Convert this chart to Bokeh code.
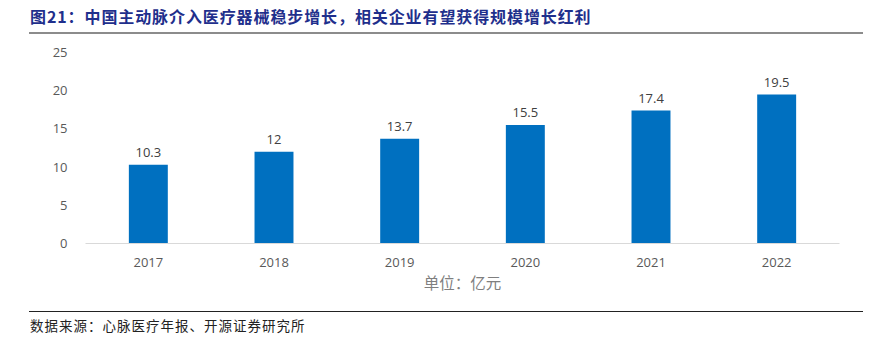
from bokeh.plotting import figure
from bokeh.models import Div, FactorRange, Range1d, ColumnDataSource, LabelSet, FixedTicker
from bokeh.core.properties import value
from bokeh.layouts import column
from bokeh.embed import file_html
from bokeh.resources import INLINE

years = ["2017", "2018", "2019", "2020", "2021", "2022"]
values = [10.3, 12, 13.7, 15.5, 17.4, 19.5]
labels = ["10.3", "12", "13.7", "15.5", "17.4", "19.5"]
y_ticks = [0, 5, 10, 15, 20, 25]
title_text = "图21：中国主动脉介入医疗器械稳步增长，相关企业有望获得规模增长红利"
unit_text = "单位：亿元"
source_text = "数据来源：心脉医疗年报、开源证券研究所"

CJK = "'Noto Sans CJK SC', 'Noto Sans', sans-serif"

title = Div(
    text=f"<div style=\"position:absolute;left:29px;top:0;width:834px;height:34px;"
         f"border-bottom:2px solid #8c8c8c;box-sizing:border-box;\">"
         f"<div style=\"padding-left:1px;padding-top:6px;font-family:{CJK};font-weight:bold;"
         f"font-size:16px;letter-spacing:0.9px;color:#1f2f8c;line-height:20px;white-space:nowrap;\">{title_text}</div></div>",
    width=893, height=36, margin=(0, 0, 0, 0),
)

src = ColumnDataSource(dict(x=years, top=values, lab=labels))

p = figure(
    width=893, height=264, output_backend="svg", toolbar_location=None,
    x_range=FactorRange(factors=years, range_padding=0),
    y_range=Range1d(0, 25),
    min_border_left=85, min_border_right=54, min_border_top=16, min_border_bottom=57,
    margin=(0, 0, 0, 0),
)
p.vbar(x="x", top="top", width=0.31, source=src, color="#0070C0", line_color=None)
p.add_layout(LabelSet(x="x", y="top", text="lab", source=src, text_align="center",
                      text_baseline="bottom", y_offset=8, text_font_size="13px",
                      text_color="#404040", text_font=value("Open Sans")))

p.outline_line_color = None
p.grid.grid_line_color = None
p.background_fill_color = "white"
p.border_fill_color = "white"

p.yaxis.ticker = FixedTicker(ticks=y_ticks)
p.yaxis.axis_line_color = None
p.yaxis.major_tick_line_color = None
p.yaxis.minor_tick_line_color = None
p.yaxis.major_label_text_font_size = "13px"
p.yaxis.major_label_text_color = "#595959"
p.yaxis.major_label_standoff = 12
p.yaxis.major_label_text_font = "Open Sans"

p.xaxis.axis_line_color = "#d9d9d9"
p.xaxis.axis_line_width = 1
p.xaxis.major_tick_line_color = None
p.xaxis.minor_tick_line_color = None
p.xaxis.major_label_text_font_size = "13px"
p.xaxis.major_label_text_color = "#595959"
p.xaxis.major_label_standoff = 8
p.xaxis.major_label_text_font = "Open Sans"
p.xaxis.axis_label = unit_text
p.xaxis.axis_label_text_font = "Noto Sans CJK SC"
p.xaxis.axis_label_text_font_style = "normal"
p.xaxis.axis_label_text_font_size = "15.5px"
p.xaxis.axis_label_text_color = "#7f7f7f"
p.xaxis.axis_label_standoff = 1

footer = Div(
    text=f"<div style=\"position:absolute;left:29px;top:11px;width:834px;"
         f"border-top:1px solid #222;\">"
         f"<div style=\"padding-left:1px;padding-top:5px;font-family:{CJK};"
         f"font-size:13.5px;letter-spacing:1px;color:#222;line-height:16px;white-space:nowrap;\">{source_text}</div></div>",
    width=893, height=37, margin=(0, 0, 0, 0),
)

layout = column(title, p, footer, spacing=0, margin=(0, 0, 0, 0))
open("out.html", "w").write(file_html(layout, INLINE))
